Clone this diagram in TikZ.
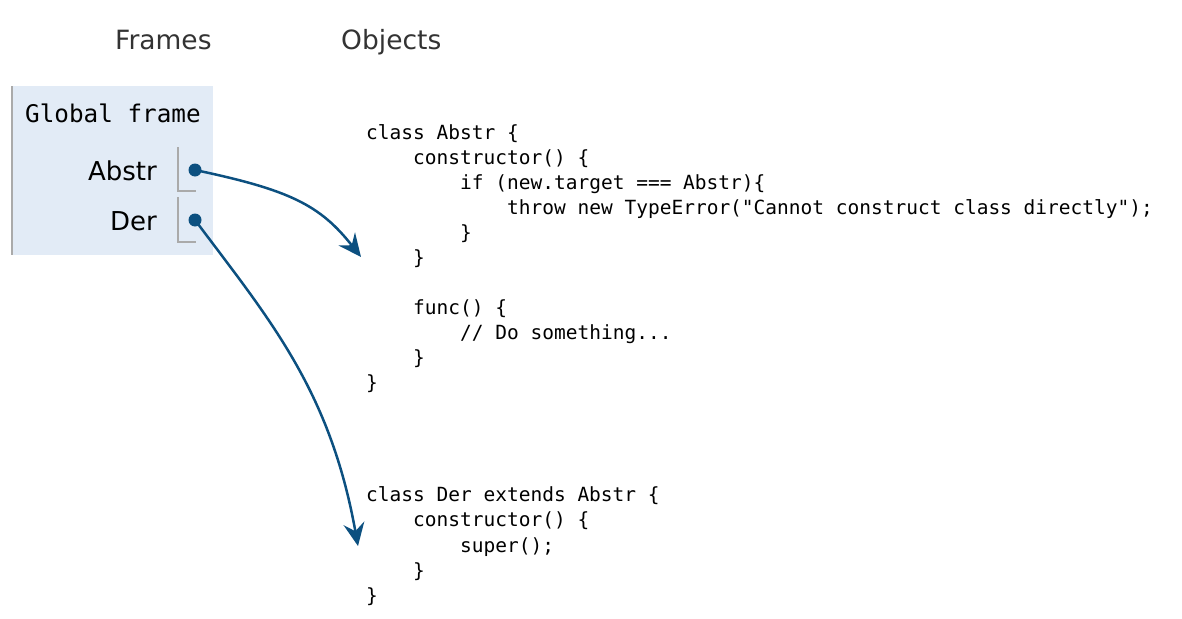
\documentclass[tikz,border=0pt]{standalone}
\usepackage{fontspec}
\setmainfont{DejaVu Sans}
\setmonofont{DejaVu Sans Mono}
\usepackage{xcolor}
\usetikzlibrary{arrows.meta}

\definecolor{frameBlue}{RGB}{226,235,246}
\definecolor{frameEdge}{RGB}{170,170,170}
\definecolor{pointerBlue}{RGB}{12,80,128}
\definecolor{headGray}{RGB}{51,51,51}

\begin{document}
\begin{tikzpicture}[x=1pt,y=-1pt,
    header/.style={anchor=base west,text=headGray,inner sep=0pt,font=\fontsize{26.5}{30}\selectfont},
    varname/.style={anchor=base east,inner sep=0pt,font=\fontsize{26}{30}\selectfont},
    codeline/.style={anchor=base west,inner sep=0pt,font=\ttfamily\fontsize{19.5}{25}\selectfont},
    slot/.style={draw=frameEdge,line width=1.5pt},
    pointer/.style={draw=pointerBlue,line width=2.5pt,-{Stealth[length=23pt,width=21pt,inset=8pt]}}]
    \useasboundingbox (0,0) rectangle (1182,618);
    % column headers
    \node[header] (frames) at (115,50) {Frames};
    \node[header] (objects) at (341,50) {Objects};

    % global frame
    \fill[frameBlue] (11,86) rectangle (213,255);
    \draw[frameEdge,line width=2pt] (12,86) -- (12,255);
    \node[anchor=base west,inner sep=0pt,font=\ttfamily\fontsize{24.3}{30}\selectfont] (global) at (25,122) {Global frame};
    \node[varname] (abstrvar) at (157,180) {Abstr};
    \node[varname] (dervar) at (157,230) {Der};
    \draw[slot] (178,147) -- (178,191) -- (196,191);
    \draw[slot] (178,197) -- (178,242) -- (196,242);
    \fill[pointerBlue] (195,170) circle (6.5pt) coordinate (abstrdot);
    \fill[pointerBlue] (195,220) circle (6.5pt) coordinate (derdot);

    % class Abstr
    \def\cw{11.75}
    \node[codeline] (a1) at (366,139) {class Abstr \{};
    \node[codeline] (a2) at (366+4*\cw,164) {constructor() \{};
    \node[codeline] (a3) at (366+8*\cw,189) {if (new.target === Abstr)\{};
    \node[codeline] (a4) at (366+12*\cw,214) {throw new TypeError("Cannot construct class directly");};
    \node[codeline] (a5) at (366+8*\cw,239) {\}};
    \node[codeline] (a6) at (366+4*\cw,264) {\}};
    \node[codeline] (a7) at (366+4*\cw,314) {func() \{};
    \node[codeline] (a8) at (366+8*\cw,339) {// Do something...};
    \node[codeline] (a9) at (366+4*\cw,364) {\}};
    \node[codeline] (a10) at (366,389) {\}};

    % class Der
    \node[codeline] (d1) at (366,501) {class Der extends Abstr \{};
    \node[codeline] (d2) at (366+4*\cw,526) {constructor() \{};
    \node[codeline] (d3) at (366+8*\cw,552) {super();};
    \node[codeline] (d4) at (366+4*\cw,577) {\}};
    \node[codeline] (d5) at (366,602) {\}};

    % pointers
    \coordinate (abstrobj) at (361,257);
    \coordinate (derobj) at (358,546);
    \draw[pointer] (abstrdot) .. controls (290,190) and (320,205) .. (abstrobj);
    \draw[pointer] (derdot) .. controls (270,320) and (330,390) .. (derobj);
\end{tikzpicture}
\end{document}
